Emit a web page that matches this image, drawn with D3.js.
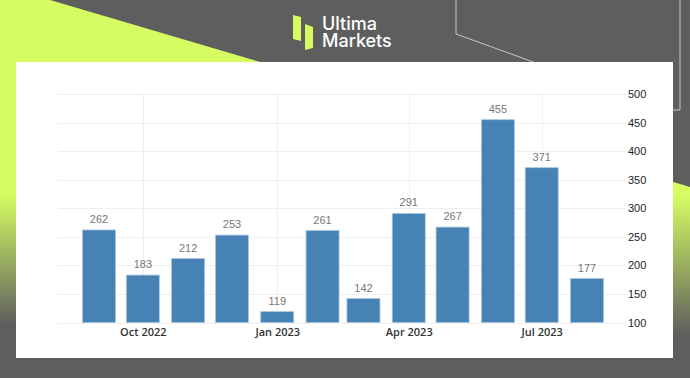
<!DOCTYPE html>
<html>
<head>
<meta charset="utf-8">
<script src="https://cdn.jsdelivr.net/npm/d3@7"></script>
<style>
  body { margin: 0; background: #5e5e5e; }
  svg { display: block; }
  .grid line { stroke: #efefef; stroke-width: 1; }
  .value-label { font-family: "Liberation Sans", Arial, sans-serif; font-size: 11px; fill: #777; text-anchor: middle; }
  .tick-label { font-family: "Liberation Sans", Arial, sans-serif; font-size: 11px; fill: #222; }
  .x-label { font-family: "Open Sans", "Liberation Sans", sans-serif; font-size: 11px; font-weight: 600; fill: #333; text-anchor: middle; }
</style>
</head>
<body>
<svg width="690" height="378"></svg>
<script>
  // data
  const months = ["2022-09", "2022-10", "2022-11", "2022-12", "2023-01", "2023-02",
                  "2023-03", "2023-04", "2023-05", "2023-06", "2023-07", "2023-08"];
  const values = [262, 183, 212, 253, 119, 261, 142, 291, 267, 455, 371, 177];
  const xTickMonths = ["2022-10", "2023-01", "2023-04", "2023-07"];
  const yTicks = [100, 150, 200, 250, 300, 350, 400, 450, 500];

  const parse = d3.utcParse("%Y-%m");
  const data = months.map((m, i) => ({ date: parse(m), value: values[i] }));

  const svg = d3.select("svg");
  const W = 690, H = 378;

  // ---- background decoration ----
  const defs = svg.append("defs");
  const gl = defs.append("linearGradient").attr("id", "fadeL")
    .attr("gradientUnits", "userSpaceOnUse").attr("x1", 0).attr("y1", 0).attr("x2", 0).attr("y2", H);
  gl.append("stop").attr("offset", 195 / H).attr("stop-color", "#d5fd62");
  gl.append("stop").attr("offset", 325 / H).attr("stop-color", "#5e5e5e");
  const gr = defs.append("linearGradient").attr("id", "fadeR")
    .attr("gradientUnits", "userSpaceOnUse").attr("x1", 0).attr("y1", 0).attr("x2", 0).attr("y2", H);
  gr.append("stop").attr("offset", 195 / H).attr("stop-color", "#d5fd62");
  gr.append("stop").attr("offset", 335 / H).attr("stop-color", "#5e5e5e");

  svg.append("rect").attr("width", W).attr("height", H).attr("fill", "#5e5e5e");
  svg.append("path").attr("d", "M0,0 L50,0 L260,62 L260,378 L0,378 Z").attr("fill", "url(#fadeL)");
  svg.append("path").attr("d", "M660,178 L690,187 L690,378 L660,378 Z").attr("fill", "url(#fadeR)");
  svg.append("path").attr("d", "M456,0 L456,34 L536,63").attr("fill", "none").attr("stroke", "#c8c8c8").attr("stroke-width", 1);
  svg.append("path").attr("d", "M680,0 L680,110 L670,110").attr("fill", "none").attr("stroke", "#c8c8c8").attr("stroke-width", 1);

  // logo
  const logo = svg.append("g");
  logo.append("path").attr("d", "M293,15 L301,17 L301,41 L293,39 Z").attr("fill", "#d5fd62");
  logo.append("path").attr("d", "M305,24 L313,27 L313,48 L305,50 Z").attr("fill", "#d5fd62");
  const logoText = logo.append("text")
    .attr("font-family", "Inter, sans-serif").attr("font-size", 18).attr("font-weight", 500).attr("fill", "#fff");
  logoText.append("tspan").attr("x", 322).attr("y", 30).text("Ultima");
  logoText.append("tspan").attr("x", 322).attr("y", 47).text("Markets");

  // white panel
  svg.append("rect").attr("x", 16).attr("y", 62).attr("width", 657).attr("height", 296).attr("fill", "#fff");

  // ---- chart ----
  const plot = { left: 58, right: 626, top: 94, bottom: 322.5 };

  const x = d3.scaleUtc()
    .domain([parse("2022-09"), parse("2023-08")])
    .range([99, 587]);
  const y = d3.scaleLinear()
    .domain([100, 500])
    .range([plot.bottom, plot.top]);
  const barW = 33;

  const grid = svg.append("g").attr("class", "grid");
  grid.selectAll(".h").data(yTicks).join("line")
    .attr("x1", plot.left).attr("x2", plot.right)
    .attr("y1", d => Math.round(y(d)) + 0.5).attr("y2", d => Math.round(y(d)) + 0.5);
  grid.selectAll(".v").data(xTickMonths.map(parse)).join("line")
    .attr("x1", d => Math.round(x(d)) + 0.5).attr("x2", d => Math.round(x(d)) + 0.5)
    .attr("y1", plot.top).attr("y2", plot.bottom);

  svg.append("g").selectAll("rect").data(data).join("rect")
    .attr("x", d => x(d.date) - barW / 2)
    .attr("y", d => y(d.value))
    .attr("width", barW)
    .attr("height", d => y(100) - y(d.value))
    .attr("fill", "#4682b4")
    .attr("stroke", "#a9c5df")
    .attr("stroke-width", 0.8);

  svg.append("g").selectAll("text").data(data).join("text")
    .attr("class", "value-label")
    .attr("x", d => x(d.date))
    .attr("y", d => y(d.value) - 7)
    .text(d => d.value);

  // y axis on the right
  const yAxis = d3.axisRight(y).tickValues(yTicks).tickSize(0).tickPadding(0);
  const yAxisG = svg.append("g").attr("transform", `translate(628,0)`).call(yAxis);
  yAxisG.select(".domain").remove();
  yAxisG.selectAll("text").attr("class", "tick-label").attr("fill", null).attr("font-size", null).attr("font-family", null);

  // x axis
  const xAxis = d3.axisBottom(x).tickValues(xTickMonths.map(parse))
    .tickFormat(d3.utcFormat("%b %Y")).tickSize(0).tickPadding(0);
  const xAxisG = svg.append("g").attr("transform", `translate(0,${plot.bottom + 6})`).call(xAxis);
  xAxisG.select(".domain").remove();
  xAxisG.selectAll("text").attr("class", "x-label").attr("fill", null).attr("font-size", null).attr("font-family", null);
</script>
</body>
</html>
